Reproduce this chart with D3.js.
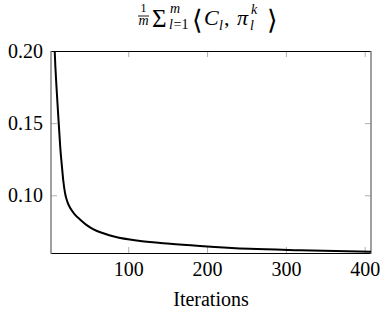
<!DOCTYPE html>
<html>
<head>
<meta charset="utf-8">
<script src="https://cdn.jsdelivr.net/npm/d3@7"></script>
<style>
  html, body { margin: 0; padding: 0; background: #fff; }
  svg { display: block; }
  text { font-family: "Liberation Serif", "Times New Roman", "DejaVu Serif", serif; fill: #000; }
</style>
</head>
<body>
<div id="chart"></div>
<script>
// values
const iterations = [5.2, 6.7, 9.2, 11.8, 13.8, 15.7, 17.5, 19.8, 22.9, 26.8, 31.8, 38.8, 46.4, 55.3, 69.3, 83.2, 115, 153, 191, 254, 318, 408];
const objective = [0.228, 0.200, 0.173, 0.150, 0.1328, 0.1210, 0.1106, 0.1016, 0.0953, 0.0908, 0.0870, 0.0832, 0.0797, 0.0766, 0.0735, 0.0712, 0.0683, 0.0664, 0.0649, 0.0629, 0.0619, 0.0609];
const xTicks = [100, 200, 300, 400];
const yTicks = [0.10, 0.15, 0.20];
const xLabel = 'Iterations';

const width = 388, height = 314;
const margin = { top: 51, right: 17, bottom: 61, left: 51 };
const innerW = width - margin.left - margin.right;
const innerH = height - margin.top - margin.bottom;
const serif = '"Liberation Serif", "Times New Roman", "DejaVu Serif", serif';

const svg = d3.select('#chart').append('svg')
    .attr('width', width)
    .attr('height', height);

const x = d3.scaleLinear().domain([2, 408]).range([0, innerW]);
const y = d3.scaleLinear().domain([0.06, 0.20]).range([innerH, 0]);

const g = svg.append('g').attr('transform', `translate(${margin.left},${margin.top})`);

svg.append('defs').append('clipPath').attr('id', 'plotClip')
    .append('rect').attr('width', innerW).attr('height', innerH);

// tick marks (inside, mirrored on opposite sides)
const tickLen = 6;
const tickColor = '#b0b0b0';
const xAxisB = d3.axisBottom(x).tickValues(xTicks).tickSizeInner(-tickLen).tickSizeOuter(0).tickFormat(d => d);
const xAxisT = d3.axisTop(x).tickValues(xTicks).tickSizeInner(-tickLen).tickSizeOuter(0).tickFormat('');
const yAxisL = d3.axisLeft(y).tickValues(yTicks).tickSizeInner(-tickLen).tickSizeOuter(0).tickFormat(d3.format('.2f'));
const yAxisR = d3.axisRight(y).tickValues(yTicks).tickSizeInner(-tickLen).tickSizeOuter(0).tickFormat('');

function styleAxis(sel) {
    sel.attr('font-family', null);
    sel.select('.domain').remove();
    sel.selectAll('.tick line').attr('stroke', tickColor).attr('stroke-width', 1);
    sel.selectAll('.tick text')
        .style('font-family', serif)
        .style('font-size', '20px')
        .attr('fill', '#000');
}

g.append('g').attr('transform', `translate(0,${innerH})`).call(xAxisB).call(styleAxis)
    .selectAll('.tick text').attr('y', 9).attr('dy', '0.71em');
g.append('g').call(xAxisT).call(styleAxis);
g.append('g').call(yAxisL).call(styleAxis)
    .selectAll('.tick text').attr('x', -8).attr('dy', '0.33em');
g.append('g').attr('transform', `translate(${innerW},0)`).call(yAxisR).call(styleAxis);

// frame
g.append('line').attr('x1', 0).attr('x2', innerW).attr('y1', 0.5).attr('y2', 0.5)
    .attr('stroke', '#000').attr('stroke-width', 1.2);
g.append('line').attr('x1', 0).attr('x2', innerW).attr('y1', innerH + 0.5).attr('y2', innerH + 0.5)
    .attr('stroke', '#000').attr('stroke-width', 1.2);
g.append('line').attr('x1', 0).attr('x2', 0).attr('y1', 0).attr('y2', innerH + 1)
    .attr('stroke', '#777').attr('stroke-width', 1.4);
g.append('line').attr('x1', innerW).attr('x2', innerW).attr('y1', 0).attr('y2', innerH + 1)
    .attr('stroke', '#777').attr('stroke-width', 1.4);

// curve
const pts = iterations.map((d, i) => [d, objective[i]]);
const line = d3.line()
    .x(d => x(d[0]))
    .y(d => y(d[1]))
    .curve(d3.curveMonotoneX);

g.append('path')
    .datum(pts)
    .attr('clip-path', 'url(#plotClip)')
    .attr('fill', 'none')
    .attr('stroke', '#000')
    .attr('stroke-width', 2)
    .attr('d', line);

// x label
svg.append('text')
    .attr('x', margin.left + innerW / 2)
    .attr('y', 306)
    .attr('text-anchor', 'middle')
    .style('font-size', '20px')
    .text(xLabel);

// title: 1/m sum_{l=1}^m <C_l, pi_l^k>
const t = svg.append('g').attr('class', 'title');
function tx(xp, yp, s, size, italic, anchor, fam) {
    t.append('text').attr('x', xp).attr('y', yp)
        .attr('text-anchor', anchor || 'start')
        .style('font-family', fam || serif)
        .style('font-size', size + 'px')
        .style('font-style', italic ? 'italic' : 'normal')
        .text(s);
}
tx(143.5, 12, '1', 12, false, 'middle');
t.append('line').attr('x1', 138).attr('x2', 149).attr('y1', 16).attr('y2', 16)
    .attr('stroke', '#000').attr('stroke-width', 0.9);
tx(143.5, 25, 'm', 14, true, 'middle');
tx(152, 27, '\u03A3', 25, false);
tx(170, 13, 'm', 14, true);
tx(169, 29, 'l', 14, true);
tx(173.5, 29, '=1', 14, false);
tx(192, 29, '\u27E8', 27, false, 'start', '"DejaVu Serif", serif');
tx(204, 25, 'C', 22, true);
tx(219, 30, 'l', 14, true);
tx(224, 25, ',', 22, false);
tx(237, 25, '\u03C0', 22, true);
tx(251, 14, 'k', 14, true);
tx(250, 30, 'l', 14, true);
tx(267, 29, '\u27E9', 27, false, 'start', '"DejaVu Serif", serif');
</script>
</body>
</html>
